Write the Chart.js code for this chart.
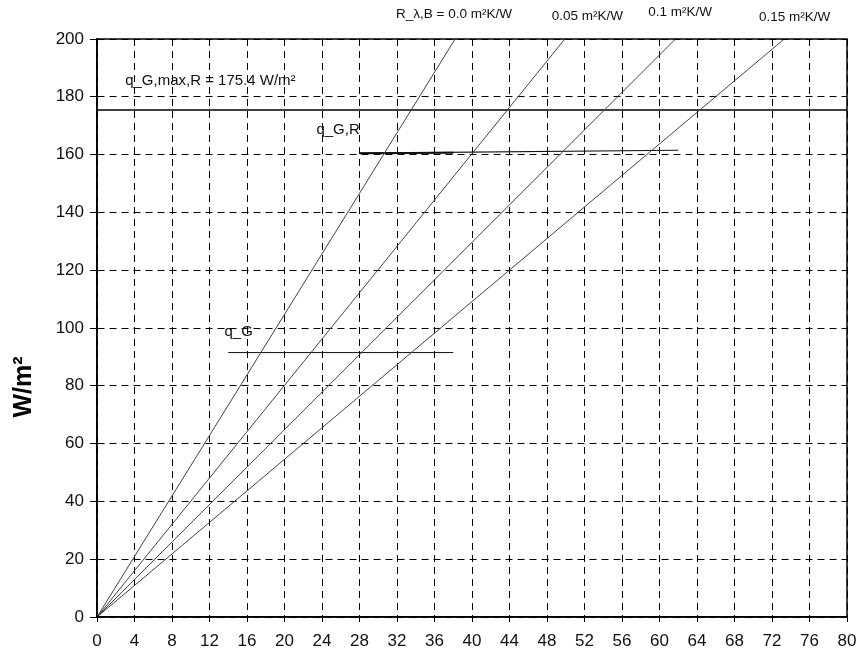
<!DOCTYPE html>
<html>
<head>
<meta charset="utf-8">
<script src="https://cdn.jsdelivr.net/npm/chart.js@4"></script>
<style>
html,body{margin:0;padding:0;background:#fff;}
#wrap{width:868px;height:651px;}
</style>
</head>
<body>
<div id="wrap"><canvas id="c" width="868" height="651"></canvas></div>
<script>
// ---- data ----
const xTickStep = 4;
const xRange = [0, 80];
const yTickStep = 20;
const yRange = [0, 200];
const seriesNames = ['R_λ,B = 0.0 m²K/W', '0.05 m²K/W', '0.1 m²K/W', '0.15 m²K/W'];
const line00 = [{x:0,y:0},{x:38.2,y:200}];
const line005 = [{x:0,y:0},{x:49.9,y:200}];
const line01 = [{x:0,y:0},{x:61.7,y:200}];
const line015 = [{x:0,y:0},{x:73.3,y:200}];
const qGmaxR = 175.4;
const qGmaxLine = [{x:0,y:qGmaxR},{x:80,y:qGmaxR}];
const qGRLine = [{x:28,y:160.5},{x:62,y:161.5}];
const qGRLineThick = [{x:28,y:160.5},{x:38,y:160.6}];
const qGLine = [{x:14,y:91.5},{x:38,y:91.5}];
const yTitle = 'W/m²';
const annoTexts = [
  {text:'q_G,max,R = 175.4 W/m²', x:3.0, y:185.5},
  {text:'q_G,R', x:23.4, y:168.5},
  {text:'q_G', x:13.6, y:98.5}
];
const topLabels = [
  {text:seriesNames[0], x:31.9, py:14},
  {text:seriesNames[1], x:48.5, py:16},
  {text:seriesNames[2], x:58.8, py:12},
  {text:seriesNames[3], x:70.6, py:17}
];

const FONT = '"Liberation Sans", Arial, Helvetica, sans-serif';

const textPlugin = {
  id: 'texts',
  afterDraw(chart) {
    const {ctx, chartArea, scales:{x, y}} = chart;
    ctx.save();
    // frame
    ctx.strokeStyle = '#000';
    ctx.lineWidth = 1.5;
    ctx.setLineDash([]);
    ctx.strokeRect(chartArea.left, chartArea.top, chartArea.right - chartArea.left, chartArea.bottom - chartArea.top);
    ctx.fillStyle = '#111';
    ctx.textBaseline = 'middle';
    ctx.textAlign = 'left';
    ctx.font = '15px ' + FONT;
    annoTexts.forEach(a => ctx.fillText(a.text, x.getPixelForValue(a.x), y.getPixelForValue(a.y)));
    ctx.font = '13.5px ' + FONT;
    topLabels.forEach(a => ctx.fillText(a.text, x.getPixelForValue(a.x), a.py));
    // y title
    ctx.translate(24, 387);
    ctx.rotate(-Math.PI/2);
    ctx.textAlign = 'center';
    ctx.font = 'bold 25px ' + FONT;
    ctx.fillStyle = '#000';
    ctx.fillText(yTitle, 0, 0);
    ctx.restore();
  }
};

const mk = (data, color, w) => ({data, borderColor:color, borderWidth:w, pointRadius:0, showLine:true, fill:false, tension:0});

new Chart(document.getElementById('c'), {
  type: 'scatter',
  data: {
    datasets: [
      mk(line00, '#444', 1),
      mk(line005, '#444', 1),
      mk(line01, '#444', 1),
      mk(line015, '#444', 1),
      mk(qGmaxLine, '#000', 1.5),
      mk(qGRLine, '#111', 1.2),
      mk(qGRLineThick, '#111', 2),
      mk(qGLine, '#111', 1)
    ]
  },
  options: {
    responsive: false,
    animation: false,
    devicePixelRatio: 1,
    layout: {padding: {left: 0, right: 21, top: 39, bottom: 0}},
    plugins: {legend: {display:false}, tooltip: {enabled:false}},
    scales: {
      x: {
        type: 'linear', min: xRange[0], max: xRange[1],
        afterFit(s){ s.height = 34; },
        ticks: {stepSize: xTickStep, color:'#111', font:{family:FONT, size:17}, padding: 9, maxRotation:0, autoSkip:false},
        grid: {color:'#000', lineWidth:1, tickLength:5, tickColor:'#000'},
        border: {color:'#000', width:1.5, dash:[7,5]}
      },
      y: {
        type: 'linear', min: yRange[0], max: yRange[1],
        afterFit(s){ s.width = 97; },
        ticks: {stepSize: yTickStep, color:'#111', font:{family:FONT, size:17}, padding: 6},
        grid: {color:'#000', lineWidth:1, tickLength:7, tickColor:'#000'},
        border: {color:'#000', width:1.5, dash:[7,5]}
      }
    }
  },
  plugins: [textPlugin]
});
</script>
</body>
</html>
